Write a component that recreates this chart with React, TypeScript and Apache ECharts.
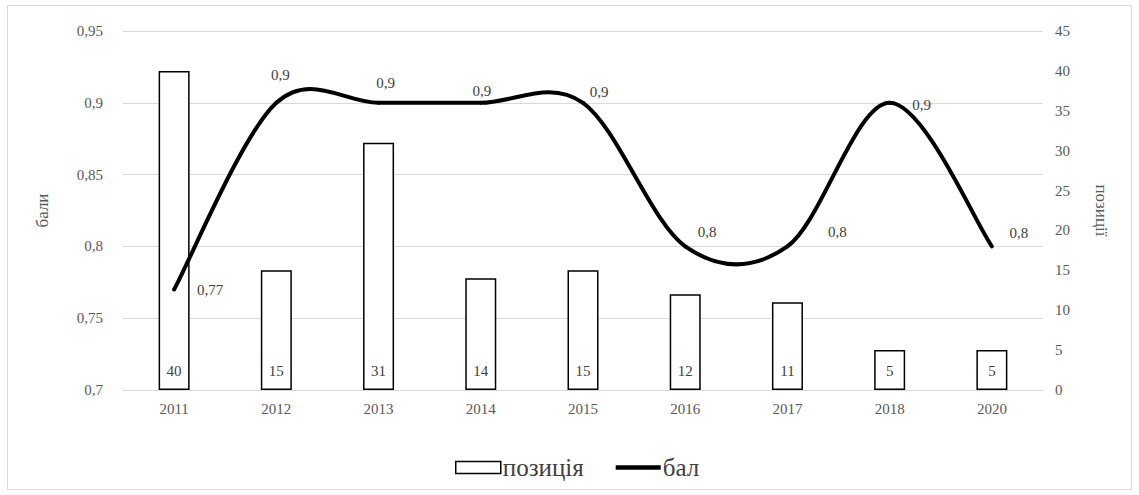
import React, { useEffect, useRef } from "react";
import * as echarts from "echarts";

const categories = ["2011", "2012", "2013", "2014", "2015", "2016", "2017", "2018", "2020"];
const positions = [40, 15, 31, 14, 15, 12, 11, 5, 5];
const scores = [0.77, 0.9, 0.9, 0.9, 0.9, 0.8, 0.8, 0.9, 0.8];
const leftTicks = { min: 0.7, max: 0.95, interval: 0.05 };
const rightTicks = { min: 0, max: 45, interval: 5 };
const labelOffsets: [number, number][] = [
  [36, 1], [4, -28], [7, -20], [1, -12], [16, -11], [22, -14], [50, -14], [32, 2], [27, -13],
];

const FONT = "'Liberation Serif', 'DejaVu Serif', 'Times New Roman', serif";
const fmt = (v: number) => String(parseFloat(v.toFixed(2))).replace(".", ",");
const CLEAR = "rgba(0,0,0,0)";

export default function App() {
  const ref = useRef<HTMLDivElement>(null);
  useEffect(() => {
    document.body.style.margin = "0";
    const chart = echarts.init(ref.current!, undefined, { renderer: "svg" });
    const n = scores.length;
    chart.setOption({
      animation: false,
      backgroundColor: "#ffffff",
      textStyle: { fontFamily: FONT },
      graphic: [
        {
          type: "rect",
          shape: { x: 7.5, y: 5.5, width: 1124, height: 484 },
          style: { fill: "none", stroke: "#d9d9d9", lineWidth: 1 },
          silent: true,
        },
      ],
      grid: { left: 123, right: 96, top: 31, bottom: 105 },
      legend: {
        top: 450,
        left: 450,
        itemWidth: 45,
        itemHeight: 12,
        itemGap: 32,
        textStyle: { fontFamily: FONT, fontSize: 25, color: "#404040", padding: [0, 0, 0, -3] },
        data: [
          { name: "позиція", icon: "rect", itemStyle: { color: "#ffffff", borderColor: "#000", borderWidth: 1.5, opacity: 1 } },
          { name: "бал", icon: "path://M0,0 L10,0 L10,1 L0,1 Z", itemStyle: { color: "#000", opacity: 1, borderWidth: 0 } },
        ],
      },
      xAxis: {
        type: "category",
        data: categories,
        axisTick: { show: false },
        axisLine: { lineStyle: { color: "#d9d9d9" } },
        axisLabel: { color: "#595959", fontSize: 15, fontFamily: FONT, margin: 11 },
      },
      yAxis: [
        {
          type: "value",
          min: leftTicks.min,
          max: leftTicks.max,
          interval: leftTicks.interval,
          name: "бали",
          nameLocation: "middle",
          nameRotate: 90,
          nameGap: 72,
          nameTextStyle: { color: "#595959", fontSize: 17, fontFamily: FONT },
          axisLabel: { color: "#595959", fontSize: 15, fontFamily: FONT, margin: 20, formatter: (v: number) => fmt(v) },
          axisLine: { show: false },
          axisTick: { show: false },
          splitLine: { lineStyle: { color: "#d9d9d9", width: 1 } },
        },
        {
          type: "value",
          min: rightTicks.min,
          max: rightTicks.max,
          interval: rightTicks.interval,
          name: "позиції",
          nameLocation: "middle",
          nameRotate: -90,
          nameGap: 50,
          nameTextStyle: { color: "#595959", fontSize: 17, fontFamily: FONT },
          axisLabel: { color: "#595959", fontSize: 15, fontFamily: FONT, margin: 12 },
          axisLine: { show: false },
          axisTick: { show: false },
          splitLine: { show: false },
        },
      ],
      series: [
        {
          name: "позиція",
          type: "bar",
          yAxisIndex: 1,
          barWidth: 31,
          data: positions,
          itemStyle: { color: "#ffffff", borderColor: "#000000", borderWidth: 1.5 },
          label: {
            show: true,
            position: "insideBottom",
            distance: 12,
            color: "#404040",
            fontSize: 15,
            fontFamily: FONT,
          },
          z: 2,
        },
        {
          name: "curve",
          type: "custom",
          yAxisIndex: 0,
          silent: true,
          z: 4,
          data: scores.map((v, i) => [i, v]),
          renderItem: (params: any, api: any) => {
            const i = params.dataIndex;
            if (i >= n - 1) return { type: "group", children: [] };
            const pt = (j: number) => {
              const k = Math.max(0, Math.min(n - 1, j));
              return api.coord([k, scores[k]]);
            };
            const p0 = pt(i - 1);
            const p1 = pt(i);
            const p2 = pt(i + 1);
            const p3 = pt(i + 2);
            return {
              type: "bezierCurve",
              shape: {
                x1: p1[0],
                y1: p1[1],
                x2: p2[0],
                y2: p2[1],
                cpx1: p1[0] + (p2[0] - p0[0]) / 6,
                cpy1: p1[1] + (p2[1] - p0[1]) / 6,
                cpx2: p2[0] - (p3[0] - p1[0]) / 6,
                cpy2: p2[1] - (p3[1] - p1[1]) / 6,
              },
              style: { fill: "none", stroke: "#000000", lineWidth: 4, lineCap: "round" },
            };
          },
        },
        {
          name: "бал",
          type: "line",
          yAxisIndex: 0,
          symbol: "circle",
          symbolSize: 1,
          showSymbol: true,
          lineStyle: { color: CLEAR, width: 4 },
          itemStyle: { color: CLEAR },
          data: scores.map((v, i) => ({
            value: v,
            label: {
              show: true,
              position: "inside",
              offset: labelOffsets[i],
              formatter: (p: any) => fmt(p.value),
              color: "#404040",
              fontSize: 15,
              fontFamily: FONT,
            },
          })),
          z: 5,
        },
      ],
    });
    return () => chart.dispose();
  }, []);
  return <div ref={ref} style={{ width: 1139, height: 495 }} />;
}
